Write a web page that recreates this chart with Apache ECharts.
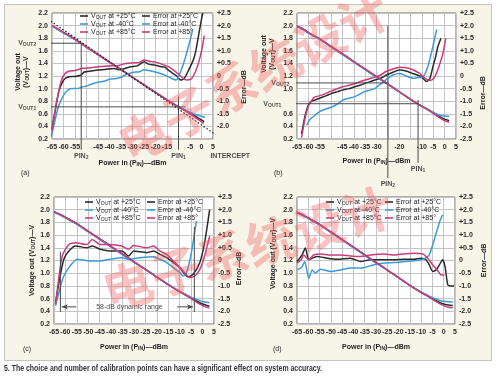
<!DOCTYPE html>
<html>
<head>
<meta charset="utf-8">
<script src="https://cdn.jsdelivr.net/npm/echarts@6/dist/echarts.min.js"></script>
<style>
  html, body { margin: 0; padding: 0; background: #fff; }
  #chart { width: 500px; height: 376px; }
</style>
</head>
<body>
<div id="chart"></div>
<script>
// ---- ticks ----
const xTicks = [-65, -60, -55, -50, -45, -40, -35, -30, -25, -20, -15, -10, -5, 0, 5];
const vTicks = [0.2, 0.4, 0.6, 0.8, 1.0, 1.2, 1.4, 1.6, 1.8, 2.0, 2.2];
const eTicks = [-2.5, -2.0, -1.5, -1.0, -0.5, 0, 0.5, 1.0, 1.5, 2.0, 2.5];
// labels left out in each panel (where the P_IN markers sit)
const hideX = [[-50, -10], [-50, -25, -15], [], []];
const hideV = [[], [0.8], [], []];
const hideE = [[-2.5], [], [], []];

// ---- (a) ----
const voutA25 = [[-65,2.0],[-62,1.93],[-60,1.89],[-57,1.83],[-55,1.78],[-50,1.66],[-45,1.54],[-40,1.42],[-35,1.3],[-30,1.18],[-25,1.06],[-20,0.94],[-15,0.82],[-10,0.71],[-7,0.65],[-5,0.61],[-2,0.545],[0,0.505],[1.2,0.475]];
const voutA40 = [[-65,1.99],[-62,1.93],[-60,1.88],[-57,1.82],[-55,1.78],[-50,1.66],[-45,1.54],[-40,1.42],[-35,1.3],[-30,1.18],[-25,1.06],[-20,0.94],[-15,0.82],[-10,0.715],[-7,0.66],[-5,0.625],[-2,0.58],[0,0.56],[1.5,0.545]];
const voutA85 = [[-65,2.0],[-62,1.94],[-60,1.89],[-57,1.83],[-55,1.78],[-50,1.66],[-45,1.54],[-40,1.42],[-35,1.3],[-30,1.18],[-25,1.06],[-20,0.94],[-15,0.82],[-10,0.705],[-7,0.645],[-5,0.6],[-2,0.525],[0,0.475],[1,0.445]];
const errA25 = [[-65,-2.1],[-63.5,-1.3],[-62,-0.6],[-60.5,-0.25],[-59,-0.08],[-57.5,-0.03],[-55,-0.02],[-52.5,0.03],[-51,0.16],[-48,0.2],[-45,0.24],[-42,0.26],[-38,0.3],[-36,0.25],[-34,0.28],[-31,0.37],[-28,0.4],[-25,0.57],[-23,0.47],[-20.5,0.44],[-18,0.38],[-16,0.35],[-13.5,0.17],[-11,0.02],[-9,-0.16],[-7.5,-0.1],[-5.5,0.25],[-3.5,0.65],[-2.4,1.03],[-1,1.75],[0.5,2.5]];
const errA40 = [[-65.3,-2.4],[-64,-1.9],[-62.5,-1.3],[-61,-0.95],[-59.5,-0.7],[-58,-0.55],[-56,-0.5],[-54,-0.5],[-52,-0.44],[-50,-0.4],[-48,-0.33],[-45,-0.25],[-42,-0.2],[-40,-0.13],[-37,-0.1],[-35,-0.05],[-33,0.05],[-30,0.14],[-27,0.17],[-25,0.25],[-22,0.2],[-19,0.13],[-16,0.04],[-13,-0.1],[-11,-0.16],[-9.6,0.05],[-8,0.45],[-6.8,0.8],[-5.3,1.3],[-3.8,1.85]];
const errA85 = [[-65,-2.2],[-64,-1.6],[-62.5,-0.8],[-61,-0.2],[-59.5,0.08],[-57.5,0.2],[-55,0.22],[-52,0.3],[-48,0.33],[-45,0.37],[-40,0.4],[-36,0.42],[-33,0.5],[-30,0.52],[-27,0.54],[-25,0.63],[-22,0.57],[-20,0.55],[-17,0.46],[-14,0.35],[-12,0.22],[-9.6,0.04],[-6.7,-0.16],[-4.5,-0.12],[-2.5,0.2],[-1.2,0.55],[0.1,1.03],[1.2,1.6]];

// ---- (b) ----
const voutB25 = [[-65,1.99],[-62,1.94],[-60,1.89],[-57,1.83],[-55,1.79],[-50,1.67],[-45,1.55],[-40,1.43],[-35,1.31],[-30,1.19],[-25,1.07],[-20,0.95],[-15,0.83],[-10,0.72],[-7,0.66],[-5,0.615],[-2,0.55],[0,0.515],[2,0.49]];
const voutB40 = [[-65,1.98],[-62,1.93],[-60,1.88],[-57,1.82],[-55,1.78],[-50,1.66],[-45,1.54],[-40,1.42],[-35,1.3],[-30,1.18],[-25,1.07],[-20,0.95],[-15,0.83],[-10,0.72],[-7,0.665],[-5,0.625],[-3,0.59],[-1,0.57],[2,0.56]];
const voutB85 = [[-65,1.99],[-62,1.94],[-60,1.89],[-57,1.83],[-55,1.79],[-50,1.67],[-45,1.55],[-40,1.43],[-35,1.31],[-30,1.19],[-25,1.07],[-20,0.95],[-15,0.83],[-10,0.715],[-7,0.655],[-5,0.605],[-2,0.53],[0,0.49],[2,0.465]];
const errB25 = [[-63,-2.3],[-61.5,-1.6],[-60,-1.15],[-58.5,-1.0],[-57,-0.95],[-55,-0.88],[-52,-0.78],[-50,-0.7],[-47,-0.62],[-45,-0.56],[-42,-0.5],[-40,-0.44],[-37,-0.36],[-35,-0.29],[-32,-0.2],[-30,-0.14],[-28,-0.08],[-26,0.02],[-23,0.14],[-20,0.24],[-17,0.2],[-14,0.1],[-11,0.0],[-9.5,-0.1],[-8,-0.22],[-6.5,-0.1],[-5.2,0.35],[-4,0.75],[-3,1.16],[-1.6,1.5]];
const errB40 = [[-60.7,-1.95],[-59,-1.7],[-57,-1.55],[-55,-1.41],[-52,-1.3],[-49.3,-1.22],[-47,-1.1],[-44.7,-0.95],[-42,-0.88],[-39.6,-0.82],[-37,-0.7],[-35.4,-0.62],[-33,-0.56],[-30.7,-0.5],[-28,-0.3],[-26,-0.16],[-22.8,0.04],[-19.5,0.1],[-17,0.0],[-13.8,-0.09],[-11.5,-0.06],[-9.5,-0.03],[-7.4,0.37],[-5.2,1.16],[-3.5,1.85]];
const errB85 = [[-63,-2.45],[-61.5,-1.7],[-60,-1.2],[-58,-0.9],[-57,-0.83],[-55,-0.78],[-52,-0.68],[-50,-0.6],[-47,-0.5],[-45,-0.43],[-42,-0.37],[-40,-0.32],[-37,-0.22],[-35,-0.16],[-32,-0.08],[-30,-0.03],[-28,0.05],[-26,0.17],[-23,0.27],[-20,0.35],[-17,0.33],[-14,0.25],[-11,0.1],[-9.5,-0.03],[-7.5,-0.16],[-6,-0.17],[-4.5,-0.05],[-3,0.25],[-1.6,0.63],[-0.5,1.0],[0.5,1.5]];

// ---- (c) ----
const voutC25 = [[-65,1.97],[-62,1.92],[-60,1.88],[-57,1.82],[-55,1.78],[-50,1.66],[-45,1.54],[-40,1.42],[-35,1.3],[-30,1.18],[-25,1.06],[-20,0.94],[-15,0.82],[-10,0.71],[-7,0.65],[-5,0.61],[-2,0.55],[0,0.515],[3,0.48]];
const voutC40 = [[-65,1.96],[-62,1.91],[-60,1.87],[-57,1.81],[-55,1.77],[-50,1.65],[-45,1.53],[-40,1.41],[-35,1.29],[-30,1.17],[-25,1.06],[-20,0.94],[-15,0.82],[-10,0.715],[-7,0.66],[-5,0.62],[-2,0.58],[0,0.555],[3,0.535]];
const voutC85 = [[-65,1.97],[-62,1.92],[-60,1.88],[-57,1.82],[-55,1.78],[-50,1.66],[-45,1.54],[-40,1.42],[-35,1.3],[-30,1.18],[-25,1.06],[-20,0.94],[-15,0.82],[-10,0.705],[-7,0.645],[-5,0.6],[-2,0.53],[0,0.49],[3,0.45]];
const errC25 = [[-64.3,-1.65],[-62.5,-0.7],[-60.7,0.05],[-58.5,0.37],[-55.6,0.57],[-50.5,0.5],[-48.3,0.57],[-44.7,0.44],[-40.4,0.37],[-35.3,0.37],[-32.4,0.18],[-30.2,0.37],[-24.4,0.31],[-21.5,0.37],[-18.6,0.24],[-15.7,0.11],[-12.8,-0.08],[-9.9,-0.28],[-7.8,-0.54],[-6.3,-0.65],[-4.1,-0.54],[-1.2,-0.08],[0.9,0.7],[3.1,2.0]];
const errC40 = [[-64.3,-1.78],[-62.1,-1.0],[-60.7,-0.61],[-58.5,-0.28],[-54.9,0.05],[-49.1,-0.02],[-44.7,-0.02],[-40.4,0.05],[-35.3,0.11],[-32.4,0.05],[-27.3,0.11],[-21.5,0.15],[-18.6,0.05],[-15.7,-0.08],[-12.8,-0.28],[-9.9,-0.48],[-8.5,-0.61],[-7,-0.48],[-4.9,0.31],[-2.7,1.55]];
const errC85 = [[-64.3,-1.72],[-61.4,0.18],[-58.5,0.63],[-55.6,0.7],[-50.5,0.63],[-48.3,0.83],[-44.7,0.63],[-40.4,0.63],[-35.3,0.57],[-32.4,0.44],[-30.2,0.59],[-24.4,0.5],[-21.5,0.57],[-18.6,0.37],[-15.7,0.24],[-12.8,-0.02],[-9.9,-0.28],[-7.8,-0.48],[-5.6,-0.67],[-3.4,-0.61],[-1.2,-0.35],[0.9,0.18],[3.1,0.96]];
// 58-dB dynamic range markers
const rangeLo = -62.2, rangeHi = -3.6, rangeV = 0.47, rangeTextX = -32;

// ---- (d) ----
const voutD25 = [[-65,1.96],[-62,1.91],[-60,1.87],[-57,1.81],[-55,1.77],[-50,1.65],[-45,1.53],[-40,1.41],[-35,1.29],[-30,1.17],[-25,1.05],[-20,0.93],[-15,0.81],[-10,0.7],[-7,0.64],[-5,0.6],[-2,0.545],[0,0.515],[2,0.5],[4,0.49]];
const voutD40 = [[-65,1.95],[-62,1.9],[-60,1.86],[-57,1.8],[-55,1.76],[-50,1.64],[-45,1.52],[-40,1.4],[-35,1.28],[-30,1.16],[-25,1.05],[-20,0.93],[-15,0.81],[-10,0.705],[-7,0.65],[-5,0.615],[-2,0.575],[0,0.56],[2,0.55],[4,0.545]];
const voutD85 = [[-65,1.96],[-62,1.91],[-60,1.87],[-57,1.81],[-55,1.77],[-50,1.65],[-45,1.53],[-40,1.41],[-35,1.29],[-30,1.17],[-25,1.05],[-20,0.93],[-15,0.81],[-10,0.695],[-7,0.635],[-5,0.59],[-2,0.525],[0,0.49],[2,0.465],[4,0.455]];
const errD25 = [[-65,-0.04],[-62.8,0.22],[-61.3,0.49],[-59.8,0.03],[-58.3,0.09],[-56.1,0.16],[-51.6,0.09],[-47.2,0.05],[-41.3,0.09],[-36.8,-0.04],[-32.4,0.03],[-26.4,0.03],[-22,0.03],[-17.5,0.05],[-13.1,0.05],[-10.1,0.09],[-7.9,0.03],[-6.4,-0.17],[-4.9,-0.43],[-3.4,-0.37],[-1.9,-0.17],[-0.5,0.03],[0.6,-0.24],[1.8,-0.96],[3.2,-1.0],[4.6,-1.0]];
const errD40 = [[-65,-0.37],[-62.8,-0.26],[-61.6,-0.04],[-59.8,-0.7],[-58.3,-0.37],[-56.8,-0.5],[-54.6,-0.34],[-50.2,-0.43],[-45.7,-0.37],[-41.3,-0.3],[-36.8,-0.3],[-34.6,-0.26],[-30.9,-0.17],[-26.4,-0.1],[-22,-0.08],[-17.5,-0.04],[-13.1,-0.01],[-10.1,0.03],[-8.6,0.07],[-6.4,0.22],[-4.2,0.82],[-1.9,1.5],[-0.5,1.8]];
const errD85 = [[-65,-0.1],[-63.2,0.03],[-62,0.22],[-59.8,0.03],[-57.6,0.22],[-54.6,0.26],[-50.2,0.22],[-45.7,0.22],[-41.3,0.18],[-36.8,0.16],[-32.4,0.22],[-26.4,0.26],[-22,0.22],[-17.5,0.26],[-13.1,0.29],[-9.4,0.26],[-7.1,0.09],[-4.9,-0.17],[-2.7,-0.39],[-1.2,-0.57],[0.3,-0.57]];

// calibration points (a) and (b)
const calA = { pin2: -52.3, vout2: 1.72, pin1: -10, vout1: 0.71 };
const calB = { pin2: -25, vout2: 1.09, pin1: -11.7, vout1: 0.76 };
const interceptA = [11.5, 0.15];

const FONT = "'Liberation Sans', Arial, sans-serif";
const FS = 7;
const C25 = '#2a2a2a', C40 = '#3c9bd6', C85 = '#cb3a7b';
const INK = '#1e1e1e';

const RICH = {
  m: { fontSize: FS, fontFamily: FONT, color: INK, lineHeight: 8 },
  b: { fontSize: FS, fontFamily: FONT, color: INK, lineHeight: 8, fontWeight: 'bold' },
  s: { fontSize: 5, fontFamily: FONT, color: INK, lineHeight: 4.5, verticalAlign: 'bottom' },
  sb: { fontSize: 5, fontFamily: FONT, color: INK, lineHeight: 4.5, verticalAlign: 'bottom', fontWeight: 'bold' }
};
const tickText = { fontSize: FS, fontFamily: FONT, color: '#2a2a2a', fontWeight: 'bold' };

const grids = [
  { left: 52, top: 13, width: 161, height: 126 },
  { left: 297, top: 13, width: 159, height: 126 },
  { left: 54, top: 197, width: 160, height: 127 },
  { left: 297, top: 197, width: 158, height: 127 }
].map(g => Object.assign(g, { show: true, backgroundColor: '#fff', borderColor: '#6a6a6a', borderWidth: 1 }));

const near = (list, v) => list.some(h => Math.abs(h - v) < 1e-6);
const step = t => +(t[1] - t[0]).toFixed(6);

// axis-name settings: [gap, shift, twoLines] (shift: + moves the rotated title up)
const vName = [[22, 4, true], [21, 22, true], [13, 0, false], [20, 7, false]];
const eName = [[27, -11], [23, -17], [20, -8], [25, 0]];
const xGap = [20, 18, 19, 19];
const shiftPad = s => s >= 0 ? [0, 0, 0, 2 * s] : [0, -2 * s, 0, 0];

const xAxis = [], yAxis = [];
for (let i = 0; i < 4; i++) {
  xAxis.push({
    type: 'value', gridIndex: i, min: xTicks[0], max: xTicks[xTicks.length - 1], interval: step(xTicks),
    axisLine: { show: false }, axisTick: { show: false },
    splitLine: { show: true, lineStyle: { color: '#c4c4c4', width: 1 } },
    axisLabel: Object.assign({ margin: 5, showMinLabel: true, showMaxLabel: true, hideOverlap: false,
      formatter: v => near(hideX[i], v) ? '' : String(v) }, tickText),
    name: '{b|Power in (P}{sb|IN}{b|)—dBm}', nameLocation: 'middle', nameGap: xGap[i],
    nameTextStyle: { rich: RICH, backgroundColor: i === 1 ? '#f7f5e8' : 'transparent', padding: [0, 1] }
  });
  const vn = vName[i];
  const vLabel = vn[2] ? '{b|Voltage out}\n{b|(V}{sb|OUT}{b|)—V}' : '{b|Voltage out (V}{sb|OUT}{b|)—V}';
  yAxis.push({
    type: 'value', gridIndex: i, position: 'left', min: vTicks[0], max: vTicks[vTicks.length - 1], interval: step(vTicks),
    axisLine: { show: false }, axisTick: { show: false },
    splitLine: { show: true, lineStyle: { color: '#c4c4c4', width: 1 } },
    axisLabel: Object.assign({ margin: 4, showMinLabel: true, showMaxLabel: true,
      formatter: v => near(hideV[i], v) ? '' : v.toFixed(1) }, tickText),
    name: vLabel, nameLocation: 'middle', nameGap: vn[0],
    nameTextStyle: { rich: RICH, padding: shiftPad(vn[1]) }
  });
  const en = eName[i];
  yAxis.push({
    type: 'value', gridIndex: i, position: 'right', min: eTicks[0], max: eTicks[eTicks.length - 1], interval: step(eTicks),
    axisLine: { show: false }, axisTick: { show: false }, splitLine: { show: false },
    axisLabel: Object.assign({ margin: 4, showMinLabel: true, showMaxLabel: true,
      formatter: v => near(hideE[i], v) ? '' : (Math.abs(v) < 1e-9 ? '0' : (v > 0 ? '+' : '') + v.toFixed(1)) }, tickText),
    name: '{b|Error—dB}', nameLocation: 'middle', nameGap: en[0],
    nameTextStyle: { rich: RICH, padding: shiftPad(en[1]) }
  });
}

const N25 = 'VOUT at +25°C', N40 = 'VOUT at -40°C', N85 = 'VOUT at +85°C';
const E25 = 'Error at +25°C', E40 = 'Error at -40°C', E85 = 'Error at +85°';

function curve(name, data, color, i, right) {
  return { name, type: 'line', data, xAxisIndex: i, yAxisIndex: 2 * i + (right ? 1 : 0),
    showSymbol: false, smooth: 0.2, silent: true, z: 3,
    lineStyle: { color, width: 1.5 }, itemStyle: { color } };
}
function guide(data, i, extra) {
  return Object.assign({ type: 'line', data, xAxisIndex: i, yAxisIndex: 2 * i, showSymbol: false,
    clip: false, silent: true, z: 4, lineStyle: { color: '#4a4a4a', width: 1 } }, extra || {});
}
function tag(point, text, pos, i) {
  return { type: 'scatter', data: [point], xAxisIndex: i, yAxisIndex: 2 * i, symbolSize: 0, clip: false, silent: true, z: 5,
    label: { show: true, position: pos, distance: 2, formatter: text, rich: RICH } };
}

const series = [];
const panels = [
  [voutA25, voutA40, voutA85, errA25, errA40, errA85],
  [voutB25, voutB40, voutB85, errB25, errB40, errB85],
  [voutC25, voutC40, voutC85, errC25, errC40, errC85],
  [voutD25, voutD40, voutD85, errD25, errD40, errD85]
];
panels.forEach((p, i) => {
  series.push(curve(E25, p[3], C25, i, true), curve(E40, p[4], C40, i, true), curve(E85, p[5], C85, i, true));
  series.push(curve(N25, p[0], C25, i, false), curve(N40, p[1], C40, i, false), curve(N85, p[2], C85, i, false));
});

// (a) calibration guides, straight-line fit and intercept
series.push(
  guide([[-71, calA.vout2], [calA.pin2, calA.vout2]], 0),
  guide([[calA.pin2, calA.vout2], [calA.pin2, 0.03]], 0),
  guide([[-71, calA.vout1], [-7, calA.vout1]], 0),
  guide([[calA.pin1, 0.87], [calA.pin1, 0.03]], 0),
  guide([[-65.5, 2.07], [16, 0.02]], 0, { lineStyle: { color: '#1e1e1e', width: 1.2, type: [1.5, 2] } }),
  guide([[interceptA[0], interceptA[1] + 0.11], [interceptA[0], interceptA[1] - 0.11]], 0),
  guide([[interceptA[0] - 2, interceptA[1]], [interceptA[0] + 2, interceptA[1]]], 0),
  tag([-71, calA.vout2], '{b|V}{sb|OUT2}', 'left', 0),
  tag([-71, calA.vout1], '{b|V}{sb|OUT1}', 'left', 0),
  tag([calA.pin2, 0.03], '{b|PIN}{sb|2}', 'bottom', 0),
  tag([calA.pin1, 0.03], '{b|PIN}{sb|1}', 'bottom', 0),
  tag([interceptA[0] + 1, 0.03], '{b|INTERCEPT}', 'bottom', 0)
);
// (b)
series.push(
  guide([[-67.5, calB.vout2], [calB.pin2, calB.vout2]], 1),
  guide([[calB.pin2, 2.0], [calB.pin2, -0.42]], 1, { z: 1 }),
  guide([[-71, calB.vout1], [calB.pin1, calB.vout1]], 1),
  guide([[calB.pin1, 0.82], [calB.pin1, -0.18]], 1),
  tag([-67.5, calB.vout2], '{b|V}{sb|OUT2}', 'left', 1),
  tag([-71, calB.vout1], '{b|V}{sb|OUT1}', 'left', 1),
  tag([calB.pin2, -0.42], '{b|PIN}{sb|2}', 'bottom', 1),
  tag([calB.pin1, -0.18], '{b|PIN}{sb|1}', 'bottom', 1)
);
// (c) dynamic range
const arrowL = { symbol: 'arrow', symbolSize: [4, 6], symbolRotate: 90 };
const arrowR = { symbol: 'arrow', symbolSize: [4, 6], symbolRotate: -90 };
series.push(
  guide([[rangeLo, 1.34], [rangeLo, 0.39]], 2),
  guide([[rangeHi, 1.73], [rangeHi, 0.39]], 2),
  guide([Object.assign({ value: [rangeLo + 0.6, rangeV] }, arrowL), { value: [rangeLo + 7, rangeV], symbol: 'none' }], 2,
    { showSymbol: true, itemStyle: { color: '#4a4a4a' } }),
  guide([{ value: [rangeHi - 7.5, rangeV], symbol: 'none' }, Object.assign({ value: [rangeHi - 0.6, rangeV] }, arrowR)], 2,
    { showSymbol: true, itemStyle: { color: '#4a4a4a' } }),
  tag([rangeTextX, rangeV], '{m|58-dB dynamic range}', 'inside', 2)
);

const legendBase = {
  orient: 'vertical', padding: 0, itemGap: 0, itemWidth: 8, itemHeight: 1.6, icon: 'rect', selectedMode: false,
  textStyle: { fontSize: FS, fontFamily: FONT, color: INK, lineHeight: 8, padding: [0, 0, 0, -2], rich: RICH },
  formatter: n => n.replace('VOUT', '{m|V}{s|OUT}')
};
const legendPos = [[80, 12], [142, 12], [85, 198], [147, 198], [326, 198], [385, 198]];
const legend = legendPos.map((p, k) => Object.assign({}, legendBase, {
  left: p[0], top: p[1], data: k % 2 === 0 ? [N25, N40, N85] : [E25, E40, E85]
}));

const caption = '5. The choice and number of calibration points can have a significant effect on system accuracy.';
const captionFont = 'bold 8.5px ' + FONT;
const ctx = document.createElement('canvas').getContext('2d');
ctx.font = captionFont;
const captionScale = Math.min(1, 318 / ctx.measureText(caption).width);

const stamp = '电子系统设计';
const stampStyle = { text: stamp, font: 'bold 50px "Noto Sans CJK SC"', fill: 'rgba(238,90,90,0.36)', textVerticalAlign: 'middle' };

const chart = echarts.init(document.getElementById('chart'), null, { renderer: 'canvas' });
chart.setOption({
  animation: false,
  backgroundColor: '#fff',
  grid: grids,
  xAxis, yAxis, legend, series,
  graphic: [
    { type: 'rect', z: -10, shape: { x: 4.5, y: 4.5, width: 487, height: 356 },
      style: { fill: '#f7f5e8', stroke: '#c4c4bc', lineWidth: 1 } },
    { type: 'text', x: 21, y: 173, style: { text: '(a)', font: FS + 'px ' + FONT, fill: INK, textVerticalAlign: 'middle' } },
    { type: 'text', x: 274, y: 173, style: { text: '(b)', font: FS + 'px ' + FONT, fill: INK, textVerticalAlign: 'middle' } },
    { type: 'text', x: 23, y: 349, style: { text: '(c)', font: FS + 'px ' + FONT, fill: INK, textVerticalAlign: 'middle' } },
    { type: 'text', x: 273, y: 349, style: { text: '(d)', font: FS + 'px ' + FONT, fill: INK, textVerticalAlign: 'middle' } },
    { type: 'text', x: 4, y: 369, scaleX: captionScale, style: { text: caption, font: captionFont, fill: '#333', textVerticalAlign: 'middle' } },
    { type: 'text', z: 50, x: 122, y: 148, rotation: 0.5, style: stampStyle },
    { type: 'text', z: 50, x: 104, y: 293, rotation: 0.3, style: stampStyle }
  ]
});
</script>
</body>
</html>
